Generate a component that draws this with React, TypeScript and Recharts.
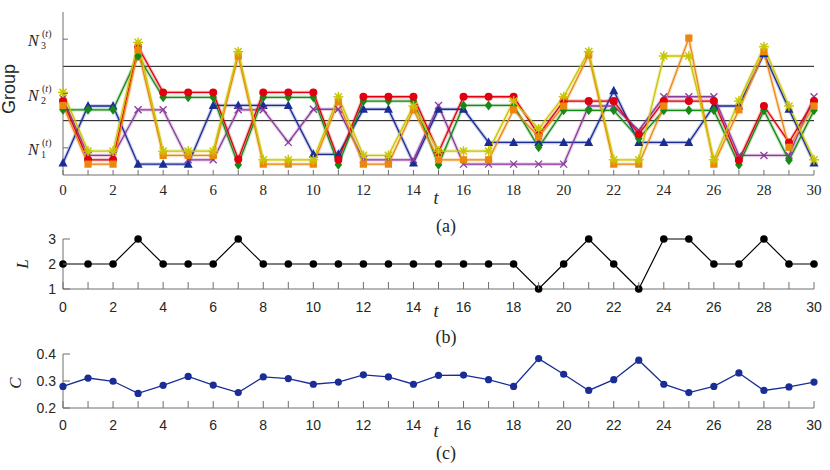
import { LineChart, Line, XAxis, YAxis, ReferenceLine } from 'recharts';

const steps = [0, 1, 2, 3, 4, 5, 6, 7, 8, 9, 10, 11, 12, 13, 14, 15, 16, 17, 18, 19, 20, 21, 22, 23, 24, 25, 26, 27, 28, 29, 30];
const groupTicks = [1, 2, 3];
const groupBounds = [1.5, 2.5];
const levelTicks = [1, 2, 3];
const costTicks = [0.2, 0.3, 0.4];

const blueGroup = [0.72, 1.77, 1.77, 0.7, 0.7, 0.7, 1.78, 1.78, 1.78, 1.78, 0.88, 0.88, 1.71, 1.71, 0.72, 1.71, 1.71, 1.1, 1.1, 1.1, 1.1, 1.1, 2.05, 1.1, 1.1, 1.1, 1.77, 1.77, 2.73, 1.71, 0.72];
const redGroup = [1.86, 0.78, 0.78, 2.86, 2.02, 2.02, 2.02, 0.79, 2.02, 2.02, 2.02, 0.78, 1.94, 1.94, 1.94, 0.92, 1.94, 1.94, 1.94, 1.24, 1.86, 1.86, 1.86, 1.25, 1.86, 1.86, 1.86, 0.77, 1.77, 1.1, 1.86];
const greenGroup = [1.7, 1.7, 1.7, 2.69, 1.93, 1.93, 1.93, 0.69, 1.93, 1.93, 1.93, 0.69, 1.86, 1.86, 1.86, 0.69, 1.78, 1.78, 1.78, 1.01, 1.69, 1.69, 1.69, 1.17, 1.69, 1.69, 1.69, 0.69, 1.69, 0.77, 1.69];
const purpleGroup = [1.91, 0.86, 0.86, 1.7, 1.7, 0.78, 0.78, 1.7, 1.7, 1.1, 1.71, 1.71, 0.78, 0.78, 0.78, 1.78, 0.7, 0.7, 0.7, 0.7, 0.7, 1.77, 1.77, 1.32, 1.94, 1.94, 1.94, 0.86, 0.86, 0.86, 1.94];
const orangeGroup = [1.78, 0.7, 0.7, 2.8, 0.86, 0.86, 0.86, 2.69, 0.7, 0.7, 0.7, 1.85, 0.7, 0.7, 1.7, 0.78, 0.78, 0.78, 1.7, 1.2, 1.77, 2.71, 0.7, 0.7, 1.77, 3.02, 0.7, 1.7, 2.77, 1.01, 1.77];
const yellowGroup = [2.02, 0.94, 0.94, 2.94, 0.94, 0.94, 0.94, 2.77, 0.78, 0.78, 0.78, 1.94, 0.86, 0.86, 1.77, 0.94, 0.94, 0.94, 1.86, 1.35, 1.94, 2.77, 0.78, 0.78, 2.69, 2.69, 0.78, 1.86, 2.86, 1.77, 0.78];
const levels = [2, 2, 2, 3, 2, 2, 2, 3, 2, 2, 2, 2, 2, 2, 2, 2, 2, 2, 2, 1, 2, 3, 2, 1, 3, 3, 2, 2, 3, 2, 2];
const costs = [0.28, 0.311, 0.299, 0.254, 0.284, 0.317, 0.285, 0.257, 0.315, 0.309, 0.288, 0.296, 0.323, 0.315, 0.288, 0.321, 0.322, 0.305, 0.28, 0.383, 0.325, 0.265, 0.305, 0.377, 0.288, 0.257, 0.28, 0.33, 0.265, 0.278, 0.296];

const groupData = steps.map((t, i) => ({
  t,
  blue: blueGroup[i],
  purple: purpleGroup[i],
  green: greenGroup[i],
  red: redGroup[i],
  orange: orangeGroup[i],
  yellow: yellowGroup[i],
}));
const levelData = steps.map((t, i) => ({ t, L: levels[i] }));
const costData = steps.map((t, i) => ({ t, C: costs[i] }));

const AXIS = '#6e6e6e';
const TEXT = '#262626';
const SERIF = '"Liberation Serif", "DejaVu Serif", serif';
const SANS = '"Liberation Sans", Arial, sans-serif';

const series = [
  { key: 'blue', color: '#1a2d96', shape: 'triangle' },
  { key: 'purple', color: '#8b3b9c', shape: 'cross' },
  { key: 'green', color: '#168a16', shape: 'diamond' },
  { key: 'red', color: '#e0000f', shape: 'circle' },
  { key: 'orange', color: '#ec870e', shape: 'square' },
  { key: 'yellow', color: '#c9c500', shape: 'star' },
];

function Marker({ cx, cy, shape, color }: any) {
  if (cx == null || cy == null) return null;
  if (shape === 'triangle')
    return <polygon points={`${cx},${cy - 5} ${cx - 4.5},${cy + 3.5} ${cx + 4.5},${cy + 3.5}`} fill={color} />;
  if (shape === 'diamond')
    return <polygon points={`${cx},${cy - 5} ${cx + 3.8},${cy} ${cx},${cy + 5} ${cx - 3.8},${cy}`} fill={color} />;
  if (shape === 'square') return <rect x={cx - 3.6} y={cy - 3.6} width={7.2} height={7.2} fill={color} />;
  if (shape === 'circle') return <circle cx={cx} cy={cy} r={4} fill={color} />;
  if (shape === 'cross')
    return (
      <g stroke={color} strokeWidth={1.3}>
        <line x1={cx - 3.5} y1={cy - 3.5} x2={cx + 3.5} y2={cy + 3.5} />
        <line x1={cx - 3.5} y1={cy + 3.5} x2={cx + 3.5} y2={cy - 3.5} />
      </g>
    );
  return (
    <g stroke={color} strokeWidth={1.4}>
      <circle cx={cx} cy={cy} r={3} fill={color} fillOpacity={0.35} stroke="none" />
      <line x1={cx - 5} y1={cy} x2={cx + 5} y2={cy} />
      <line x1={cx} y1={cy - 5} x2={cx} y2={cy + 5} />
      <line x1={cx - 3.6} y1={cy - 3.6} x2={cx + 3.6} y2={cy + 3.6} />
      <line x1={cx - 3.6} y1={cy + 3.6} x2={cx + 3.6} y2={cy - 3.6} />
    </g>
  );
}

function BottomTick({ x, y, payload, len, dy, font, size }: any) {
  const v = payload.value;
  return (
    <g>
      <line x1={x} y1={y} x2={x} y2={y - len} stroke={AXIS} />
      {v % 2 === 0 && (
        <text x={x} y={y + dy} textAnchor="middle" fontFamily={font} fontSize={size} fill={TEXT}>
          {v}
        </text>
      )}
    </g>
  );
}

function TopTick({ x, y }: any) {
  return <line x1={x} y1={y} x2={x} y2={y + 5} stroke={AXIS} />;
}

function RightTick({ x, y }: any) {
  return <line x1={x} y1={y} x2={x - 5} y2={y} stroke={AXIS} />;
}

function GroupTick({ x, y, payload }: any) {
  return (
    <g fill={TEXT} fontFamily={SERIF}>
      <line x1={x} y1={y} x2={x + 5} y2={y} stroke={AXIS} />
      <text x={x - 35} y={y + 7} fontSize={16} fontStyle="italic">N</text>
      <text x={x - 22} y={y + 10} fontSize={10}>{payload.value}</text>
      <text x={x - 21} y={y - 2} fontSize={10}>
        (<tspan fontStyle="italic">t</tspan>)
      </text>
    </g>
  );
}

function LeftTick({ x, y, payload, len, fmt }: any) {
  return (
    <g>
      <line x1={x} y1={y} x2={x + len} y2={y} stroke={AXIS} />
      <text x={x - 7} y={y + 5} textAnchor="end" fontFamily={SANS} fontSize={14} fill={TEXT}>
        {fmt(payload.value)}
      </text>
    </g>
  );
}

function XCaption({ ty, tag, tagY }: any) {
  return (
    <g fill={TEXT} fontFamily={SERIF}>
      <text x={436} y={ty} fontSize={18} fontStyle="italic" textAnchor="middle">t</text>
      <text x={446} y={tagY} fontSize={18} textAnchor="middle">{tag}</text>
    </g>
  );
}

function YCaption({ x, y, text, font, italic, size }: any) {
  return (
    <text
      x={x}
      y={y}
      transform={`rotate(-90, ${x}, ${y})`}
      textAnchor="middle"
      fontFamily={font}
      fontStyle={italic ? 'italic' : 'normal'}
      fontSize={size}
      fill={TEXT}
    >
      {text}
    </text>
  );
}

export default function App() {
  return (
    <div style={{ position: 'absolute', left: 0, top: 0, width: 830, height: 470, background: '#fff' }}>
      <div style={{ position: 'absolute', left: 0, top: 0 }}>
        <LineChart width={830} height={240} data={groupData} margin={{ top: 12, right: 16, bottom: 40, left: 0 }}>
          <XAxis
            dataKey="t"
            type="number"
            domain={[0, 30]}
            ticks={steps}
            interval={0}
            height={25}
            tickSize={0}
            tickMargin={0}
            tickLine={false}
            axisLine={{ stroke: AXIS }}
            tick={(p: any) => <BottomTick {...p} len={5} dy={20} font={SERIF} size={15} />}
            label={() => <XCaption ty={204} tag="(a)" tagY={232} />}
          />
          <XAxis
            xAxisId="top"
            orientation="top"
            dataKey="t"
            type="number"
            domain={[0, 30]}
            ticks={steps}
            interval={0}
            height={0}
            tickSize={0}
            tickMargin={0}
            tickLine={false}
            axisLine={{ stroke: AXIS }}
            tick={(p: any) => <TopTick {...p} />}
          />
          <YAxis
            type="number"
            domain={[0.5, 3.5]}
            ticks={groupTicks}
            width={63}
            tickSize={0}
            tickMargin={0}
            tickLine={false}
            axisLine={{ stroke: AXIS }}
            tick={(p: any) => <GroupTick {...p} />}
            label={() => <YCaption x={15} y={89} text="Group" font={SANS} size={18} />}
          />
          <YAxis
            yAxisId="right"
            orientation="right"
            type="number"
            domain={[0.5, 3.5]}
            ticks={groupTicks}
            width={0}
            tickSize={0}
            tickMargin={0}
            tickLine={false}
            axisLine={{ stroke: AXIS }}
            tick={(p: any) => <RightTick {...p} />}
          />
          {groupBounds.map((b) => (
            <ReferenceLine key={b} y={b} stroke="#111" strokeWidth={1} />
          ))}
          {series.map((s) => (
            <Line
              key={s.key + '-halo'}
              dataKey={s.key}
              stroke={s.color}
              strokeOpacity={0.25}
              strokeWidth={3.5}
              dot={false}
              activeDot={false}
              isAnimationActive={false}
            />
          ))}
          {series.map((s) => (
            <Line
              key={s.key}
              dataKey={s.key}
              stroke={s.color}
              strokeWidth={1.3}
              dot={(p: any) => <Marker key={`${s.key}-${p.index}`} cx={p.cx} cy={p.cy} shape={s.shape} color={s.color} />}
              activeDot={false}
              isAnimationActive={false}
            />
          ))}
        </LineChart>
      </div>

      <div style={{ position: 'absolute', left: 0, top: 226 }}>
        <LineChart width={830} height={124} data={levelData} margin={{ top: 13, right: 16, bottom: 36, left: 0 }}>
          <XAxis
            dataKey="t"
            type="number"
            domain={[0, 30]}
            ticks={steps}
            interval={0}
            height={25}
            tickSize={0}
            tickMargin={0}
            tickLine={false}
            axisLine={{ stroke: AXIS }}
            tick={(p: any) => <BottomTick {...p} len={7} dy={23} font={SANS} size={14} />}
            label={() => <XCaption ty={91} tag="(b)" tagY={117} />}
          />
          <YAxis
            type="number"
            domain={[1, 3]}
            ticks={levelTicks}
            width={63}
            tickSize={0}
            tickMargin={0}
            tickLine={false}
            axisLine={{ stroke: AXIS }}
            tick={(p: any) => <LeftTick {...p} len={7} fmt={(v: number) => String(v)} />}
            label={() => <YCaption x={28} y={38} text="L" font={SERIF} italic size={17} />}
          />
          <Line
            dataKey="L"
            stroke="#000"
            strokeWidth={1.2}
            dot={{ r: 3.8, fill: '#000', stroke: '#000', strokeWidth: 0 }}
            activeDot={false}
            isAnimationActive={false}
          />
        </LineChart>
      </div>

      <div style={{ position: 'absolute', left: 0, top: 340 }}>
        <LineChart width={830} height={130} data={costData} margin={{ top: 14, right: 16, bottom: 37, left: 0 }}>
          <XAxis
            dataKey="t"
            type="number"
            domain={[0, 30]}
            ticks={steps}
            interval={0}
            height={25}
            tickSize={0}
            tickMargin={0}
            tickLine={false}
            axisLine={{ stroke: AXIS }}
            tick={(p: any) => <BottomTick {...p} len={7} dy={22} font={SANS} size={14} />}
            label={() => <XCaption ty={97} tag="(c)" tagY={119} />}
          />
          <YAxis
            type="number"
            domain={[0.2, 0.4]}
            ticks={costTicks}
            width={63}
            tickSize={0}
            tickMargin={0}
            tickLine={false}
            axisLine={{ stroke: AXIS }}
            tick={(p: any) => <LeftTick {...p} len={7} fmt={(v: number) => v.toFixed(1)} />}
            label={() => <YCaption x={21} y={43} text="C" font={SERIF} italic size={17} />}
          />
          <Line
            dataKey="C"
            stroke="#1a2d96"
            strokeWidth={1.3}
            dot={{ r: 3.6, fill: '#1a2d96', stroke: '#1a2d96', strokeWidth: 0 }}
            activeDot={false}
            isAnimationActive={false}
          />
        </LineChart>
      </div>
    </div>
  );
}
